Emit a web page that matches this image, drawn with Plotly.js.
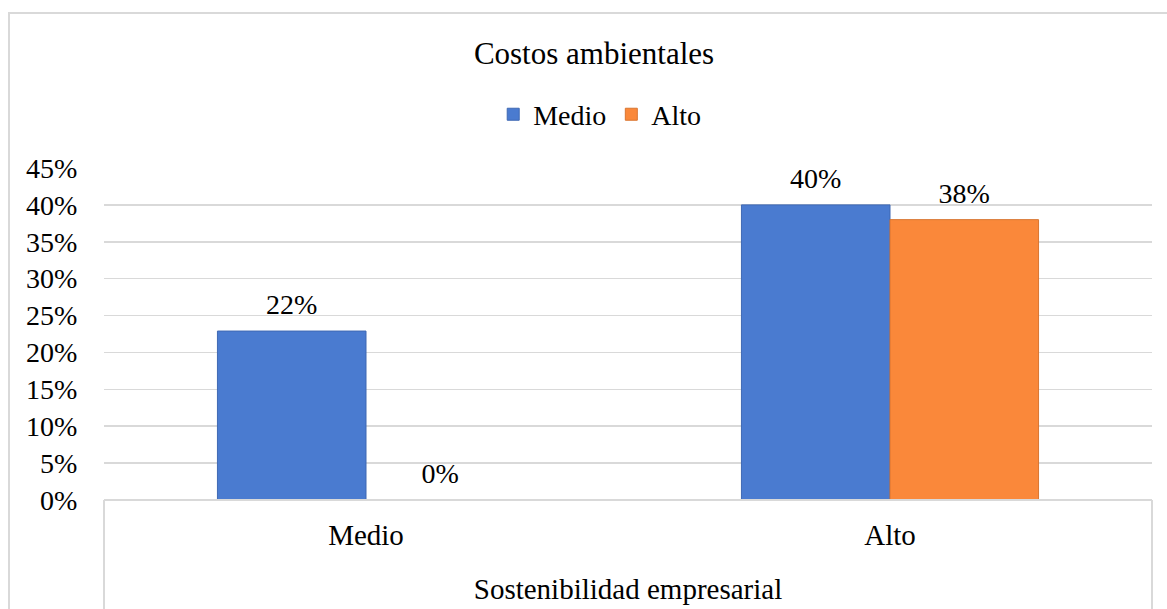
<!DOCTYPE html>
<html>
<head>
<meta charset="utf-8">
<script src="https://cdn.plot.ly/plotly-3.0.1.min.js"></script>
<style>
  html, body { margin: 0; padding: 0; background: #fff; overflow: hidden; }
  #wrap { position: relative; width: 1167px; height: 609px; }
  #chart { width: 1167px; height: 609px; }
  #frame { position: absolute; left: 8px; top: 12px; width: 1300px; height: 800px;
           border: 2px solid #d9d9d9; pointer-events: none; box-sizing: border-box; }
</style>
</head>
<body>
<div id="wrap">
  <div id="chart"></div>
  <div id="frame"></div>
</div>
<script>
// ---- data ----
const chartTitle = "Costos ambientales";
const xAxisTitle = "Sostenibilidad empresarial";
const categories = ["Medio", "Alto"];
const seriesNames = ["Medio", "Alto"];
const medioValues = [0.229, 0.40];
const altoValues = [0.0, 0.38];
const medioLabels = ["22%", "40%"];
const altoLabels = ["0%", "38%"];
const yTickVals = [0, 0.05, 0.10, 0.15, 0.20, 0.25, 0.30, 0.35, 0.40, 0.45];
const yTickText = ["0%", "5%", "10%", "15%", "20%", "25%", "30%", "35%", "40%", "45%"];

const FONT = "Times New Roman, Liberation Serif, DejaVu Serif, serif";
const colors = ["#4a7bd0", "#fa883a"];
const lineColors = ["#3f69b3", "#d97530"];

const series = [
  { name: seriesNames[0], values: medioValues, labels: medioLabels },
  { name: seriesNames[1], values: altoValues, labels: altoLabels }
];

const barTraces = series.map((s, i) => ({
  type: "bar",
  name: s.name,
  x: categories,
  y: s.values,
  offsetgroup: String(i),
  marker: { color: colors[i], line: { color: lineColors[i], width: 1 } },
  hoverinfo: "x+y+name"
}));

// value labels: text-only scatter traces grouped like the bars
const labelTraces = series.map((s, i) => ({
  type: "scatter",
  mode: "markers+text",
  name: s.name,
  x: categories,
  y: s.values,
  offsetgroup: String(i),
  text: s.labels,
  textposition: "top center",
  textfont: { family: FONT, size: 28, color: "#000" },
  marker: { size: 14, opacity: 0 },
  cliponaxis: false,
  showlegend: false,
  hoverinfo: "skip"
}));

const layout = {
  width: 1167,
  height: 609,
  margin: { l: 104, r: 15, t: 168, b: 109 },
  paper_bgcolor: "rgba(0,0,0,0)",
  plot_bgcolor: "#fff",
  barmode: "group",
  bargap: 0.433,
  bargroupgap: 0,
  scattermode: "group",
  scattergap: 0.433,
  font: { family: FONT, size: 28, color: "#000" },
  title: {
    text: chartTitle,
    font: { family: FONT, size: 31, color: "#000" },
    x: 594 / 1167, xref: "container", xanchor: "center",
    y: 1 - 53 / 609, yref: "container", yanchor: "middle"
  },
  showlegend: true,
  legend: {
    orientation: "h",
    x: 0.473, xanchor: "center",
    y: 1.161, yanchor: "middle",
    font: { family: FONT, size: 28, color: "#000" },
    itemwidth: 30,
    traceorder: "normal",
    bgcolor: "rgba(0,0,0,0)"
  },
  xaxis: {
    type: "category",
    showgrid: false,
    showline: false,
    zeroline: false,
    ticks: "outside",
    ticklen: 9,
    tickcolor: "rgba(0,0,0,0)",
    tickfont: { family: FONT, size: 29, color: "#000" },
    title: { text: xAxisTitle, font: { family: FONT, size: 29, color: "#000" }, standoff: 28 },
    automargin: false,
    fixedrange: true
  },
  yaxis: {
    range: [0, 0.45],
    tickvals: yTickVals,
    ticktext: yTickText,
    showgrid: true,
    gridcolor: "#d9d9d9",
    gridwidth: 1.5,
    zeroline: false,
    showline: false,
    ticks: "outside",
    ticklen: 20,
    tickcolor: "rgba(0,0,0,0)",
    tickfont: { family: FONT, size: 28, color: "#000" },
    automargin: false,
    fixedrange: true
  },
  shapes: [
    { type: "line", xref: "paper", yref: "paper", x0: 0, x1: 1, y0: 0, y1: 0,
      line: { color: "#d9d9d9", width: 2 }, layer: "above" },
    { type: "line", xref: "paper", yref: "paper", x0: 0, x1: 0, y0: 0, y1: -0.5,
      line: { color: "#d9d9d9", width: 2 } },
    { type: "line", xref: "paper", yref: "paper", x0: 1, x1: 1, y0: 0, y1: -0.5,
      line: { color: "#d9d9d9", width: 2 } }
  ]
};

Plotly.newPlot("chart", barTraces.concat(labelTraces), layout, { displayModeBar: false, staticPlot: true });
</script>
</body>
</html>
